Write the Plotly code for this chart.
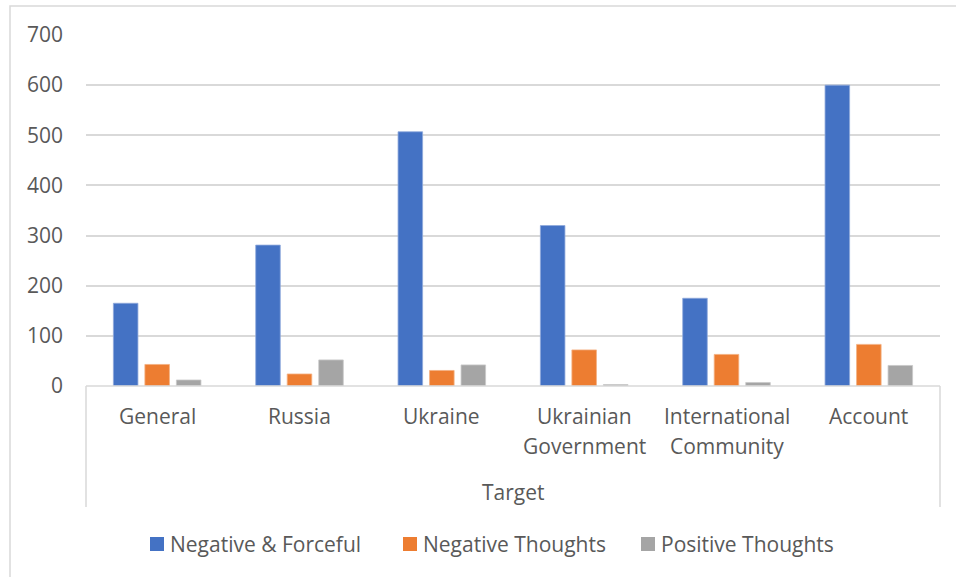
import plotly.graph_objects as go

# Target categories (line breaks as shown under the axis)
categories = ["General", "Russia", "Ukraine", "Ukrainian<br>Government",
              "International<br>Community", "Account"]

# Counts per target
negative_forceful = [165, 281, 507, 320, 175, 600]
negative_thoughts = [43, 24, 31, 72, 63, 83]
positive_thoughts = [12, 52, 42, 3, 7, 41]

series_names = ["Negative & Forceful", "Negative Thoughts", "Positive Thoughts"]
series_colors = ["#4472C4", "#ED7D31", "#A5A5A5"]
series_edges = ["#8FAADC", "#F4B183", "#C9C9C9"]
y_ticks = [0, 100, 200, 300, 400, 500, 600, 700]
axis_title = "Target"

FONT = "Open Sans"
FS = 21
TEXT = "#595959"
GRID = "#D9D9D9"

fig = go.Figure()
for name, vals, col, edge in zip(series_names,
                                 [negative_forceful, negative_thoughts, positive_thoughts],
                                 series_colors, series_edges):
    fig.add_trace(go.Bar(
        x=list(range(len(categories))), y=vals, name=name,
        marker=dict(color=col, line=dict(color=edge, width=0.8)),
        hoverinfo="x+y+name", showlegend=False,
    ))

W, H = 956, 577
L, R, T, B = 86, 16, 35, 191
plot_h = H - T - B


def py(pix):
    """Pixel row -> paper y."""
    return (H - B - pix) / plot_h


def px(pix):
    """Pixel column -> paper x."""
    return (pix - L) / (W - L - R)


# Category labels drawn line by line below the axis
annotations = []
for i, lab in enumerate(categories):
    for j, line in enumerate(lab.split("<br>")):
        annotations.append(dict(
            x=i, xref="x", y=py(416 + 30 * j), yref="paper",
            text=line, showarrow=False, xanchor="center", yanchor="middle",
            font=dict(family=FONT, size=FS, color=TEXT),
        ))
annotations.append(dict(
    x=0.5, xref="paper", y=py(492), yref="paper", text=axis_title,
    showarrow=False, xanchor="center", yanchor="middle",
    font=dict(family=FONT, size=FS, color=TEXT),
))

shapes = [
    # chart frame
    dict(type="rect", xref="paper", yref="paper", x0=px(10), x1=px(1000),
         y0=py(620), y1=py(6), line=dict(color=GRID, width=1.5), layer="below"),
    # category axis box
    dict(type="line", xref="paper", yref="paper", x0=0, x1=1, y0=0, y1=0,
         line=dict(color=GRID, width=1.5)),
    dict(type="line", xref="paper", yref="paper", x0=0, x1=0, y0=0, y1=py(507),
         line=dict(color=GRID, width=1.5)),
    dict(type="line", xref="paper", yref="paper", x0=1, x1=1, y0=0, y1=py(507),
         line=dict(color=GRID, width=1.5)),
]

# Legend row: colour swatch followed by series name
legend_swatch_x = [150, 403, 641]
legend_y = 544
swatch = 14
for name, col, sx in zip(series_names, series_colors, legend_swatch_x):
    shapes.append(dict(
        type="rect", xref="paper", yref="paper",
        x0=px(sx), x1=px(sx + swatch),
        y0=py(legend_y + swatch / 2), y1=py(legend_y - swatch / 2),
        fillcolor=col, line=dict(width=0),
    ))
    annotations.append(dict(
        x=px(sx + swatch + 4), xref="paper", y=py(legend_y), yref="paper",
        text=name, showarrow=False, xanchor="left", yanchor="middle",
        font=dict(family=FONT, size=FS, color=TEXT),
    ))

fig.update_layout(
    width=W, height=H,
    margin=dict(l=L, r=R, t=T, b=B),
    paper_bgcolor="white", plot_bgcolor="white",
    barmode="group", bargap=0.336, bargroupgap=0.22,
    font=dict(family=FONT, color=TEXT, size=FS),
    showlegend=False,
    xaxis=dict(range=[-0.5, len(categories) - 0.5], showticklabels=False,
               showgrid=False, zeroline=False, showline=False, ticks=""),
    yaxis=dict(range=[0, 700], tickvals=y_ticks, showgrid=True, gridcolor=GRID,
               gridwidth=1.5, zeroline=False, showline=False, ticks="",
               ticklabelstandoff=22,
               tickfont=dict(family=FONT, size=FS, color=TEXT)),
    annotations=annotations,
    shapes=shapes,
)

fig.write_html("out.html")
